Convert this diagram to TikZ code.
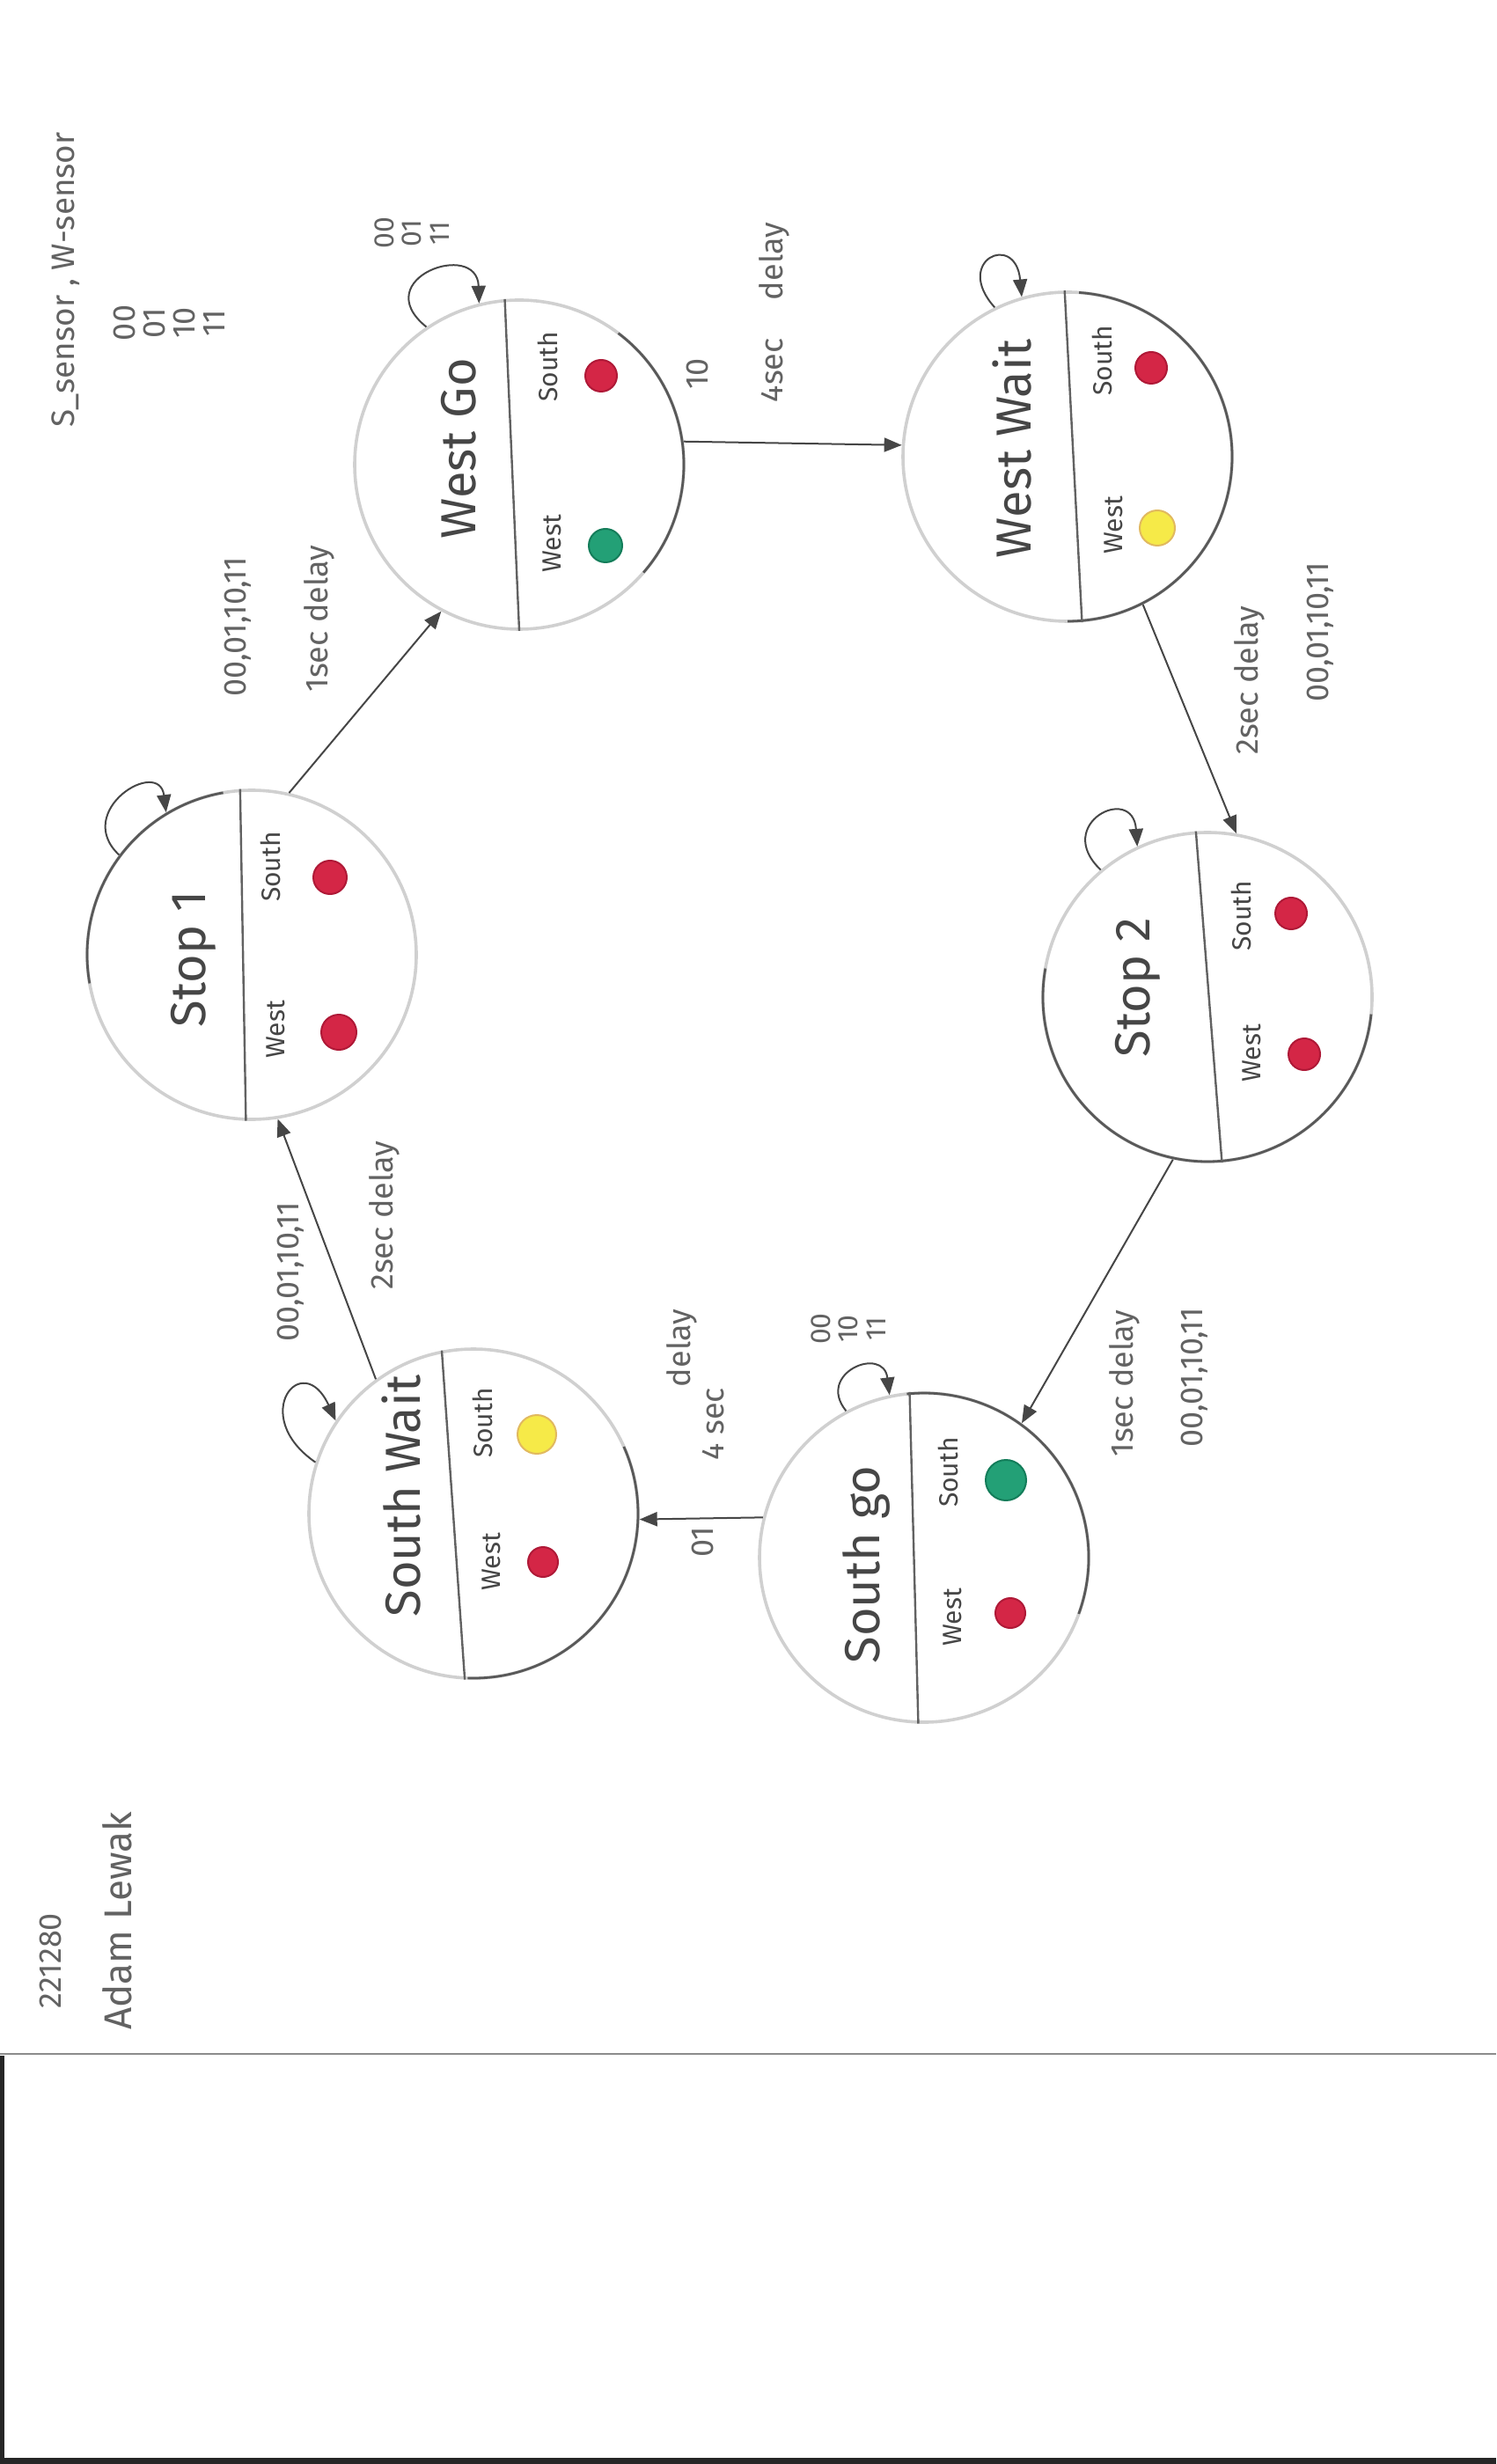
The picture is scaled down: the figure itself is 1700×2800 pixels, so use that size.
\documentclass[tikz,border=0pt]{standalone}
\usepackage{fontspec}
\setmainfont{Fira Sans}
\usetikzlibrary{arrows.meta,calc}
\definecolor{pencil}{RGB}{70,70,70}
\definecolor{faint}{RGB}{208,208,208}
\definecolor{lred}{RGB}{212,38,70}
\definecolor{lredd}{RGB}{175,25,55}
\definecolor{lgreen}{RGB}{35,160,118}
\definecolor{lgreend}{RGB}{20,125,90}
\definecolor{lyellow}{RGB}{246,234,72}
\definecolor{lyellowd}{RGB}{225,185,95}
\newcommand\pencilarc[3]{\draw[darkarc] ([shift={({-(#2)}:187)}]#1.center) arc[start angle={-(#2)}, end angle={-(#3)}, radius=187];}
\begin{document}
\begin{tikzpicture}[x=0.25pt,y=-0.25pt,
  fsm/.style={circle,draw=faint,line width=0.9pt,minimum size=93.5pt,inner sep=0pt},
  divider/.style={draw=pencil!85,line width=0.6pt},
  darkarc/.style={draw=pencil!90,line width=0.7pt},
  sname/.style={rotate=90,font=\fontsize{14}{16}\selectfont,text=pencil,inner sep=1pt},
  side/.style={rotate=90,font=\fontsize{7.5}{9}\selectfont,text=pencil,inner sep=1pt},
  tlabel/.style={rotate=90,font=\fontsize{9}{10}\selectfont,text=pencil!85,inner sep=1pt},
  stack/.style={rotate=90,align=center,font=\fontsize{8}{7.8}\selectfont,text=pencil!85,inner sep=1pt},
  lamp/.style={circle,inner sep=0pt,minimum size=#1,line width=0.5pt},
  lamp/.default=9pt,
  tr/.style={draw=pencil,line width=0.5pt,-{Triangle[length=5pt,width=4pt]}},
]
\fill[white] (0,0) rectangle (1700,2800);
\useasboundingbox (0,0) rectangle (1700,2800);

% states
\node[fsm] (WG) at (590,528) {};
\node[fsm] (WW) at (1213,519) {};
\node[fsm] (S1) at (286,1085) {};
\node[fsm] (S2) at (1372,1133) {};
\node[fsm] (SW) at (538,1720) {};
\node[fsm] (SG) at (1050,1770) {};

% darker pencil parts of outlines
\pencilarc{WG}{-41}{53}
\pencilarc{WW}{-90}{86}
\pencilarc{S1}{100}{190}
\pencilarc{S2}{170}{354}
\pencilarc{SW}{-92}{24}
\pencilarc{SG}{-20}{96}

% dividers
\draw[divider] (WG.95) -- (WG.-90);
\draw[divider] (WW.91) -- (WW.-85);
\draw[divider] (S1.94) -- (S1.-92);
\draw[divider] (S2.94) -- (S2.-85);
\draw[divider] (SW.101) -- (SW.-93);
\draw[divider] (SG.95) -- (SG.-92);

% state names
\node[sname] (nWG) at (521,510) {West Go};
\node[sname] (nWW) at (1150,510) {West Wait};
\node[sname] (nS1) at (220,1090) {Stop 1};
\node[sname] (nS2) at (1293,1122) {Stop 2};
\node[sname] (nSW) at (456,1700) {South Wait};
\node[sname] (nSG) at (985,1778) {South go};

% side labels
\node[side] (sWG) at (622,417) {South};
\node[side] (wWG) at (627,618) {West};
\node[side] (sWW) at (1252,410) {South};
\node[side] (wWW) at (1265,597) {West};
\node[side] (sS1) at (307,985) {South};
\node[side] (wS1) at (313,1170) {West};
\node[side] (sS2) at (1410,1041) {South};
\node[side] (wS2) at (1422,1197) {West};
\node[side] (sSW) at (548,1617) {South};
\node[side] (wSW) at (558,1775) {West};
\node[side] (sSG) at (1077,1673) {South};
\node[side] (wSG) at (1082,1838) {West};

% lamps
\node[lamp=9pt,fill=lred,draw=lredd] (lsWG) at (683,427) {};
\node[lamp=9.5pt,fill=lgreen,draw=lgreend] (lwWG) at (688,620) {};
\node[lamp=9pt,fill=lred,draw=lredd] (lsWW) at (1308,418) {};
\node[lamp=10pt,fill=lyellow,draw=lyellowd] (lwWW) at (1315,600) {};
\node[lamp=9.5pt,fill=lred,draw=lredd] (lsS1) at (375,997) {};
\node[lamp=10pt,fill=lred,draw=lredd] (lwS1) at (385,1173) {};
\node[lamp=9pt,fill=lred,draw=lredd] (lsS2) at (1467,1038) {};
\node[lamp=9pt,fill=lred,draw=lredd] (lwS2) at (1482,1198) {};
\node[lamp=11pt,fill=lyellow,draw=lyellowd] (lsSW) at (610,1630) {};
\node[lamp=8.5pt,fill=lred,draw=lredd] (lwSW) at (617,1775) {};
\node[lamp=11.5pt,fill=lgreen,draw=lgreend] (lsSG) at (1143,1682) {};
\node[lamp=8.5pt,fill=lred,draw=lredd] (lwSG) at (1148,1833) {};

% transitions
\draw[tr] (S1.77) -- (WG.242);
\draw[tr] (WG.8) -- (WW.176);
\draw[tr] (WW.-63) -- (S2.80);
\draw[tr] (S2.258) -- (SG.54);
\draw[tr] (SG.166) -- (SW.-2);
\draw[tr] (SW.126) -- (S1.-81);

% self loops
\draw[tr] (WG.124) .. controls +(-68,-55) and +(-2,-73) .. (WG.104);
\draw[tr] (WW.116) .. controls +(-48,-53) and +(-7,-75) .. (WW.106);
\draw[tr] (S1.143) .. controls +(-53,-50) and +(-8,-63) .. (S1.121);
\draw[tr] (S2.130) .. controls +(-55,-52) and +(-5,-72) .. (S2.115);
\draw[tr] (SW.162) .. controls +(-77,-53) and +(-38,-83) .. (SW.146);
\draw[tr] (SG.118) .. controls +(-35,-43) and +(-7,-57) .. (SG.102);

% transition labels
\node[tlabel] (t1a) at (270,712) {00,01,10,11};
\node[tlabel] (t1b) at (363,703) {1sec delay};
\node[tlabel] (t2a) at (792,425) {10};
\node[tlabel] (t2b) at (880,355) {4sec\hspace{1.2em}delay};
\node[tlabel] (t3a) at (1420,773) {2sec delay};
\node[tlabel] (t3b) at (1500,718) {00,01,10,11};
\node[tlabel] (t4a) at (1278,1572) {1sec delay};
\node[tlabel] (t4b) at (1357,1565) {00,01,10,11};
\node[tlabel] (t5a) at (798,1752) {01};
\node[tlabel] (t5b) at (810,1618) {4 sec};
\node[tlabel] (t5c) at (775,1532) {delay};
\node[tlabel] (t6a) at (330,1445) {00,01,10,11};
\node[tlabel] (t6b) at (437,1381) {2sec delay};

% loop labels
\node[stack] (lWG) at (468,265) {00\\01\\11};
\node[stack] (lSG) at (964,1510) {00\\10\\11};

% legend and author
\node[tlabel,font=\fontsize{9.2}{10}\selectfont] (leg) at (75,318) {S\_sensor , W-sensor};
\node[stack,font=\fontsize{9}{8.5}\selectfont] (legv) at (192,367) {00\\01\\10\\11};
\node[tlabel,font=\fontsize{9}{10}\selectfont] (id) at (57,2228) {221280};
\node[tlabel,font=\fontsize{11}{12}\selectfont] (nm) at (133,2183) {Adam Lewak};

% paper edge of the scan
\draw[black!45,line width=0.6pt] (0,2334) -- (1700,2334);
\fill[black!85] (0,2336) rectangle (5,2800);
\fill[black!85] (0,2793) rectangle (1700,2800);
\end{tikzpicture}
\end{document}
